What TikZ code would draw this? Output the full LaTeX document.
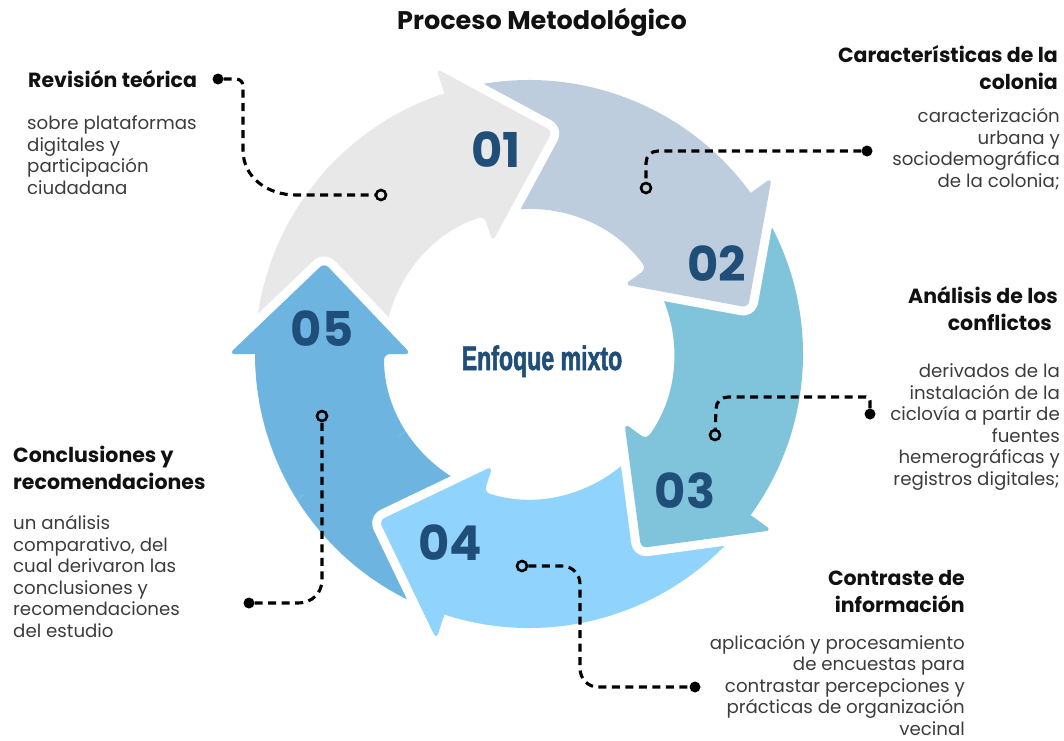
\documentclass[tikz,border=0pt]{standalone}
\usepackage{fontspec}
\setmainfont{Poppins}
\newfontfamily\condfont[FakeStretch=0.68,FakeBold=1.6]{Liberation Sans}
\definecolor{cA}{HTML}{E8E8E8}
\definecolor{cB}{HTML}{BDCDDE}
\definecolor{cC}{HTML}{7FC4DA}
\definecolor{cD}{HTML}{90D4FE}
\definecolor{cE}{HTML}{6DB5E0}
\definecolor{numblue}{HTML}{1F4E79}
\definecolor{bodygray}{HTML}{3C3C3C}
\definecolor{ttlblack}{HTML}{111111}
\newcommand\ArrowShape[2]{(#1:274) arc[start angle=#1, end angle=#2, radius=274] [rounded corners=6] -- (#2:300) -- ({#2-24}:224) -- (#2:118) -- (#2:145) [sharp corners] arc[start angle=#2, end angle=#1, radius=145] -- cycle}
\tikzset{
  gap/.style={draw=white, line width=18, line join=round},
  num/.style={font=\fontsize{48}{48}\selectfont\bfseries, text=numblue, inner sep=0},
  ttl/.style={font=\fontsize{20.5}{27}\selectfont\bfseries, text=ttlblack, inner sep=0},
  body/.style={font=\fontsize{18.2}{21.5}\selectfont, text=bodygray, inner sep=0},
  conn/.style={draw=black, line width=3.1, dash pattern=on 8pt off 5.5pt},
  fdot/.style={circle, fill=black, minimum size=11, inner sep=0},
  odot/.style={circle, draw=black, line width=2.6, minimum size=10, inner sep=0}
}
\begin{document}
\begin{tikzpicture}[x=1pt,y=-1pt]
\useasboundingbox (0,0) rectangle (1064,740);
\begin{scope}[shift={(529,354)}, yscale=-1]
  % order: 05, 04, 03, 02, 01
  \path[gap] \ArrowShape{252}{180};
  \path[fill=cE] \ArrowShape{252}{180};
  \path[gap] \ArrowShape{-36}{-108};
  \path[fill=cD] \ArrowShape{-36}{-108};
  \path[gap] \ArrowShape{36}{-36};
  \path[fill=cC] \ArrowShape{36}{-36};
  \path[gap] \ArrowShape{108}{36};
  \path[fill=cB] \ArrowShape{108}{36};
  \path[gap] \ArrowShape{180}{108};
  \path[fill=cA] \ArrowShape{180}{108};
  % 05 head over 01 tail
  \begin{scope}
    \clip (0,0) -- (212:420) -- (170:460) -- (128:420) -- cycle;
    \path[gap] \ArrowShape{252}{180};
    \path[fill=cE] \ArrowShape{252}{180};
  \end{scope}
\end{scope}

\node[num] (n1) at (496,150) {01};
\node[num] (n2) at (717,264) {02};
\node[num] (n3) at (685,491) {03};
\node[num] (n4) at (450,543) {04};
\node[num] (n5) at (322,329) {05};

\node[font=\condfont\bfseries\fontsize{34}{34}\selectfont, text=numblue, inner sep=0, anchor=base] (center) at (542,370) {Enfoque mixto};

\node[font=\fontsize{25.5}{25.5}\selectfont\bfseries, text=ttlblack, inner sep=0, anchor=base] (title) at (542,29) {Proceso Metodológico};

\node[ttl, anchor=base west, align=left] (t1) at (28,87) {Revisión teórica};
\node[body, anchor=base west, align=left] (b1) at (27,194) {sobre plataformas\\digitales y\\participación\\ciudadana};

\node[ttl, anchor=base east, align=right] (t2) at (1058,89) {Características de la\\colonia};
\node[body, anchor=base east, align=right] (b2) at (1060,187) {caracterización\\urbana y\\sociodemográfica\\de la colonia;};

\node[ttl, anchor=base east, align=right] (t3) at (1058,330) {Análisis de los\\conflictos\rule{6pt}{0pt}};
\node[body, anchor=base east, align=right] (b3) at (1060,485) {derivados de la\\instalación de la\\ciclovía a partir de\\fuentes\\hemerográficas y\\registros digitales;};

\node[ttl, anchor=base east, align=right] (t4) at (965,612) {Contraste de\\información};
\node[body, anchor=base east, align=right] (b4) at (965,735) {aplicación y procesamiento\\de encuestas para\\contrastar percepciones y\\prácticas de organización\\vecinal};

\node[ttl, anchor=base west, align=left] (t5) at (13,489) {Conclusiones y\\recomendaciones};
\node[body, anchor=base west, align=left] (b5) at (13,637) {un análisis\\comparativo, del\\cual derivaron las\\conclusiones y\\recomendaciones\\del estudio};

% connector dots
\node[fdot] (d1) at (218,79) {};
\node[odot] (o1) at (381,195) {};
\node[fdot] (d2) at (867,151) {};
\node[odot] (o2) at (646,188) {};
\node[fdot] (d3) at (870,414) {};
\node[odot] (o3) at (715,435) {};
\node[odot] (o4) at (522,566) {};
\node[fdot] (d4) at (695,687) {};
\node[fdot] (d5) at (249,603) {};
\node[odot] (o5) at (322,416) {};

\draw[conn] (d1) -- (236,79) .. controls (240,79) and (243,82) .. (243,86) -- (243,150) .. controls (243,178) and (268,195) .. (296,195) -- (o1);
\draw[conn] (d2) -- (658,151) .. controls (651,151) and (646,156) .. (646,163) -- (o2);
\draw[conn] (d3) -- (870,401) .. controls (870,399) and (869,397) .. (866,397) -- (728,397) .. controls (721,397) and (716,402) .. (716,409) -- (o3);
\draw[conn] (o4) -- (562,566) .. controls (572,566) and (580,574) .. (580,584) -- (580,668) .. controls (580,679) and (588,687) .. (598,687) -- (d4);
\draw[conn] (d5) -- (298,603) .. controls (312,603) and (322,593) .. (322,580) -- (o5);
\end{tikzpicture}
\end{document}
